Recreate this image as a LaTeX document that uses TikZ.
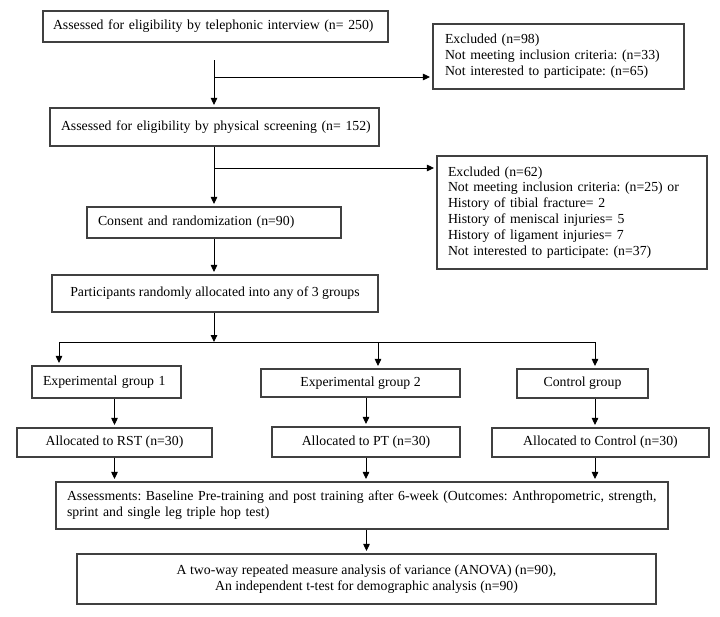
\documentclass[tikz,border=0pt]{standalone}
\usepackage{fontspec}
\setmainfont{Liberation Serif}
\usetikzlibrary{arrows.meta,calc}
\begin{document}
\frenchspacing
\begin{tikzpicture}[x=1pt,y=-1pt,
  every node/.style={font=\fontsize{13.8}{15.9}\selectfont\frenchspacing},
  boxL/.style={draw=black!75, line width=1.1pt, rectangle, inner ysep=0pt, align=left},
  boxC/.style={draw=black!75, line width=1.1pt, rectangle, inner sep=0pt, align=center},
  arr/.style={line width=0.9pt, -{Triangle[length=7pt,width=6.5pt]}, shorten >=2.5pt},
  ln/.style={line width=0.9pt}]
\useasboundingbox (0,0) rectangle (720,616);

% left-aligned boxes: width = text width + 2*inner xsep
\node[boxL, inner xsep=10pt, text width=325pt, minimum height=31pt] (A) at (215.5,26.5)
  {\mbox{Assessed for eligibility by telephonic interview (n= 250)}};
\node[boxL, inner xsep=12pt, text width=227pt, minimum height=65pt] (E1) at (558.5,56.5)
  {\mbox{Excluded (n=98)}\\\mbox{Not meeting inclusion criteria: (n=33)}\\\mbox{Not interested to participate: (n=65)}};
\node[boxL, inner xsep=11pt, text width=307pt, minimum height=38pt] (B) at (214.5,127)
  {\mbox{Assessed for eligibility by physical screening (n= 152)}};
\node[boxL, inner xsep=11pt, text width=248pt, minimum height=113pt] (E2) at (572,212.5)
  {\mbox{Excluded (n=62)}\\\mbox{Not meeting inclusion criteria: (n=25) or}\\\mbox{History of tibial fracture= 2}\\\mbox{History of meniscal injuries= 5}\\\mbox{History of ligament injuries= 7}\\\mbox{Not interested to participate: (n=37)}};
\node[boxL, inner xsep=11pt, text width=232pt, minimum height=31pt] (C) at (214,222.5)
  {\mbox{Consent and randomization (n=90)}};
\node[boxC, minimum width=326pt, minimum height=37pt] (P) at (215,293.5)
  {Participants randomly allocated into any of 3 groups};
\node[boxL, inner xsep=11pt, text width=127pt, minimum height=32pt] (G1) at (106.5,382)
  {\mbox{Experimental group 1}};
\node[boxC, minimum width=199pt, minimum height=28pt] (G2) at (360.5,383)
  {Experimental group 2};
\node[boxC, minimum width=131pt, minimum height=29pt] (G3) at (582.5,383.5)
  {Control group};
\node[boxC, minimum width=195pt, minimum height=29pt] (A1) at (114.5,442.5)
  {Allocated to RST (n=30)};
\node[boxC, minimum width=188pt, minimum height=30pt] (A2) at (366,442)
  {Allocated to PT (n=30)};
\node[boxC, minimum width=217pt, minimum height=29pt] (A3) at (600.5,442.5)
  {Allocated to Control (n=30)};
\node[boxL, inner xsep=11pt, text width=590pt, minimum height=47pt] (S) at (362,505.5)
  {\mbox{Assessments: Baseline Pre-training and post training after 6-week (Outcomes: Anthropometric, strength,}\\\mbox{sprint and single leg triple hop test)}};
\node[boxC, minimum width=579pt, minimum height=50pt] (N) at (366.5,579)
  {A two-way repeated measure analysis of variance (ANOVA) (n=90),\\An independent t-test for demographic analysis (n=90)};

% free ends and junctions
\coordinate (s0) at (214,60);
\coordinate (j1) at (214,77);
\coordinate (j2) at (214,168);
\coordinate (h) at (214,342);
\coordinate (hl) at (59,342);
\coordinate (hm) at (378,342);
\coordinate (hr) at (595,342);

\draw[arr] (s0) -- (s0 |- B.north);
\draw[arr] (j1) -- (j1 -| E1.west);
\draw[arr] (B.south -| j2) -- (j2 |- C.north);
\draw[arr] (j2) -- (j2 -| E2.west);
\draw[arr] (C.south -| j2) -- (j2 |- P.north);
\draw[-{Triangle[length=7pt,width=6.5pt]}, line width=0.9pt] (P.south -| h) -- (h);
\draw[ln] (hl) -- (hr);
\draw[arr] (hl) -- (hl |- G1.north);
\draw[arr] (hm) -- (hm |- G2.north);
\draw[arr] (hr) -- (hr |- G3.north);
\draw[arr] (A1.north |- G1.south) -- (A1.north);
\draw[arr] (A2.north |- G2.south) -- (A2.north);
\draw[arr] (hr |- G3.south) -- (hr |- A3.north);
\draw[arr] (A1.south) -- (A1.south |- S.north);
\draw[arr] (A2.south) -- (A2.south |- S.north);
\draw[arr] (hr |- A3.south) -- (hr |- S.north);
\draw[arr] (N.north |- S.south) -- (N.north);
\end{tikzpicture}
\end{document}
